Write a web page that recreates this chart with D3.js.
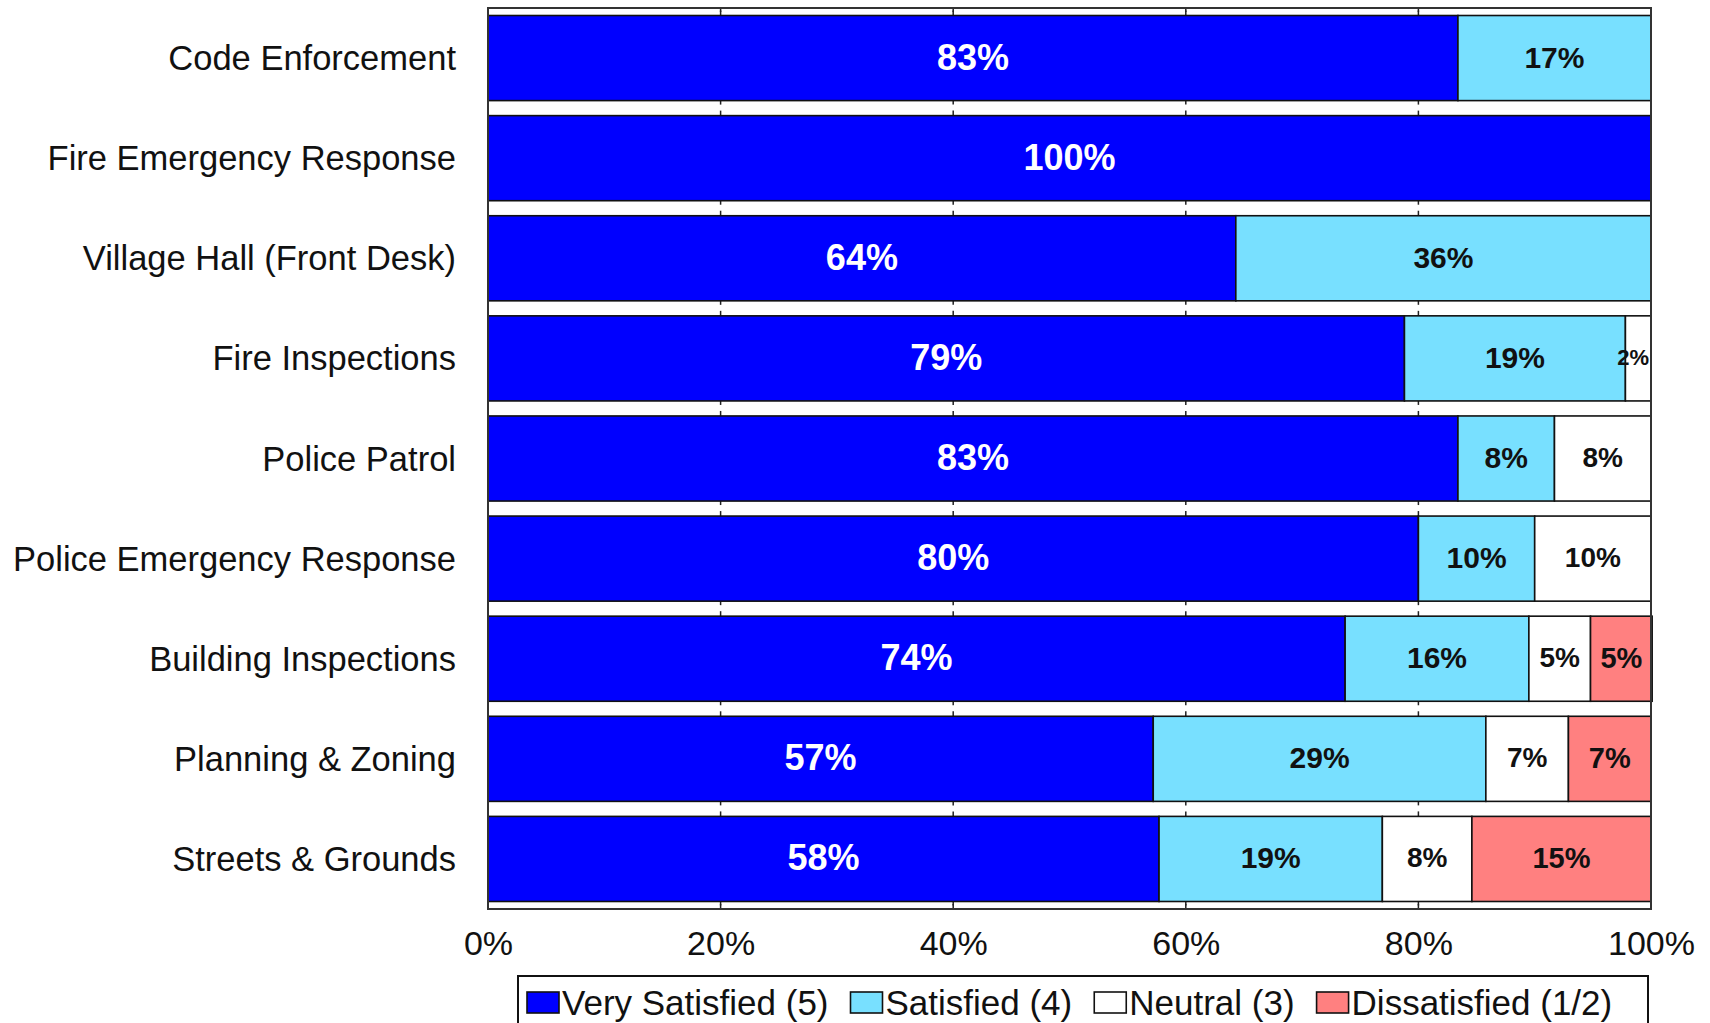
<!DOCTYPE html>
<html>
<head>
<meta charset="utf-8">
<script src="https://cdn.jsdelivr.net/npm/d3@7"></script>
<style>
  html, body { margin: 0; padding: 0; background: #fff; overflow: hidden; }
  svg { display: block; font-family: Arial, "Liberation Sans", sans-serif; }
</style>
</head>
<body>
<svg id="chart" width="1710" height="1023"></svg>
<script>
const categories = [
  "Code Enforcement",
  "Fire Emergency Response",
  "Village Hall (Front Desk)",
  "Fire Inspections",
  "Police Patrol",
  "Police Emergency Response",
  "Building Inspections",
  "Planning & Zoning",
  "Streets & Grounds"
];
const verySatisfied = [83.4, 100, 64.3, 78.8, 83.4, 80.0, 73.7, 57.2, 57.7];
const satisfied     = [16.6,   0, 35.7, 19.0,  8.3, 10.0, 15.8, 28.6, 19.2];
const neutral       = [   0,   0,    0,  2.2,  8.3, 10.0,  5.3,  7.1,  7.7];
const dissatisfied  = [   0,   0,    0,    0,    0,    0,  5.3,  7.1, 15.4];
const seriesNames = ["Very Satisfied (5)", "Satisfied (4)", "Neutral (3)", "Dissatisfied (1/2)"];
const seriesColors = ["#0000FF", "#78E0FF", "#FFFFFF", "#FF8080"];
const labelColors = ["#FFFFFF", "#111111", "#111111", "#111111"];
const labelSizes = [36, 30, 28, 29];
const xTicks = [0, 20, 40, 60, 80, 100];

const svg = d3.select("#chart");
const plot = { left: 488, right: 1651, top: 8, bottom: 909 };

const x = d3.scaleLinear().domain([0, 100]).range([plot.left, plot.right]);
const y = d3.scaleBand().domain(categories).range([plot.top, plot.bottom])
  .paddingInner(0.15).paddingOuter(0.075);

const seriesData = [verySatisfied, satisfied, neutral, dissatisfied];
const rows = categories.map((c, i) => {
  let acc = 0;
  return seriesData.map((s, k) => {
    const v = s[i];
    const seg = { cat: c, k, v, x0: acc, x1: acc + v };
    acc += v;
    return seg;
  });
});

// plot background
svg.append("rect")
  .attr("x", plot.left).attr("y", plot.top)
  .attr("width", plot.right - plot.left).attr("height", plot.bottom - plot.top)
  .attr("fill", "#fff");

// gridline ticks visible in gaps between bars
const gaps = [];
gaps.push([plot.top, y(categories[0])]);
for (let i = 0; i < categories.length - 1; i++) {
  gaps.push([y(categories[i]) + y.bandwidth(), y(categories[i + 1])]);
}
gaps.push([y(categories[categories.length - 1]) + y.bandwidth(), plot.bottom]);
const gridG = svg.append("g");
xTicks.filter(t => t > 0 && t < 100).forEach(t => {
  gaps.forEach(([g0, g1]) => {
    gridG.append("line").attr("x1", x(t)).attr("x2", x(t))
      .attr("y1", g0).attr("y2", Math.min(g0 + 4, g1))
      .attr("stroke", "#222").attr("stroke-width", 1.5);
    gridG.append("line").attr("x1", x(t)).attr("x2", x(t))
      .attr("y1", Math.max(g1 - 5, g0)).attr("y2", g1)
      .attr("stroke", "#222").attr("stroke-width", 1.5);
  });
});

// bars
const barG = svg.append("g");
rows.forEach(row => {
  row.filter(s => s.v > 0).forEach(s => {
    barG.append("rect")
      .attr("x", x(s.x0)).attr("y", y(s.cat))
      .attr("width", x(s.x1) - x(s.x0)).attr("height", y.bandwidth())
      .attr("fill", seriesColors[s.k])
      .attr("stroke", "#111").attr("stroke-width", 1.6);
  });
});

// value labels
const lblG = svg.append("g");
rows.forEach(row => {
  row.filter(s => s.v > 0).forEach(s => {
    const w = x(s.x1) - x(s.x0);
    const fs = w < 40 ? 22 : labelSizes[s.k];
    lblG.append("text")
      .attr("x", (x(s.x0) + x(s.x1)) / 2 - (w < 40 ? 5 : 0))
      .attr("y", y(s.cat) + y.bandwidth() / 2 - 1)
      .attr("text-anchor", "middle")
      .attr("dominant-baseline", "central")
      .attr("font-weight", "bold")
      .attr("font-size", fs)
      .attr("fill", labelColors[s.k])
      .text(Math.round(s.v) + "%");
  });
});

// plot border
svg.append("rect")
  .attr("x", plot.left).attr("y", plot.top)
  .attr("width", plot.right - plot.left).attr("height", plot.bottom - plot.top)
  .attr("fill", "none").attr("stroke", "#333").attr("stroke-width", 2);

// category labels
const catG = svg.append("g");
categories.forEach(c => {
  catG.append("text")
    .attr("x", 456)
    .attr("y", y(c) + y.bandwidth() / 2)
    .attr("text-anchor", "end")
    .attr("dominant-baseline", "central")
    .attr("font-size", 34.5)
    .attr("fill", "#111")
    .text(c);
});

// x axis
const xAxis = d3.axisBottom(x).tickValues(xTicks).tickFormat(d => d + "%")
  .tickSizeInner(0).tickSizeOuter(0).tickPadding(0);
const axG = svg.append("g").attr("transform", `translate(0, ${plot.bottom + 22})`).call(xAxis);
axG.select(".domain").remove();
axG.selectAll("text").attr("font-size", 34).attr("fill", "#111")
  .attr("font-family", 'Arial, "Liberation Sans", sans-serif');

// legend
const legX = 518, legY = 976, legW = 1130, legH = 70;
svg.append("rect").attr("x", legX).attr("y", legY).attr("width", legW).attr("height", legH)
  .attr("fill", "#fff").attr("stroke", "#111").attr("stroke-width", 2);
let cx = 527;
seriesNames.forEach((n, k) => {
  svg.append("rect").attr("x", cx).attr("y", 992).attr("width", 32).attr("height", 21)
    .attr("fill", seriesColors[k]).attr("stroke", "#111").attr("stroke-width", 1.6);
  const t = svg.append("text").attr("x", cx + 35).attr("y", 1015)
    .attr("font-size", 35).attr("fill", "#111").text(n);
  cx += 35 + t.node().getComputedTextLength() + 22;
});
</script>
</body>
</html>
